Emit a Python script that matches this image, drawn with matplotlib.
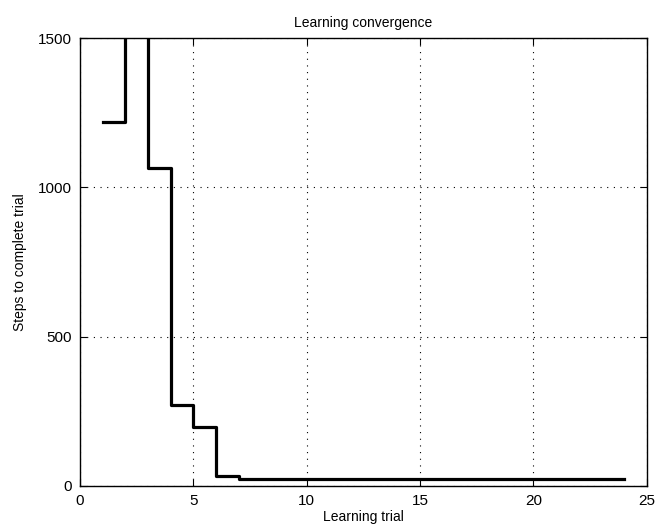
import matplotlib
matplotlib.use("Agg")
import matplotlib.pyplot as plt

plt.rcParams['font.family'] = ['Liberation Sans', 'DejaVu Sans']

trials = list(range(1, 25))
steps = [1220, 1700, 1065, 270, 198, 35] + [25] * 18

fig = plt.figure(figsize=(6.57, 5.29), dpi=100)
ax = fig.add_axes([0.1218, 0.0813, 0.8627, 0.8467])
ax.step(trials, steps, where='post', color='black', linewidth=2.3)
ax.set_xlim(0, 25)
ax.set_ylim(0, 1500)
ax.set_xticks([0, 5, 10, 15, 20, 25])
ax.set_yticks([0, 500, 1000, 1500])
ax.grid(True, color='black', linestyle=(0, (1, 5)), linewidth=0.8)
ax.tick_params(direction='in', top=True, right=True, labelsize=11, length=5, pad=6)
for s in ax.spines.values():
    s.set_linewidth(1.0)
ax.set_title('Learning convergence', fontsize=10, pad=8)
ax.set_xlabel('Learning trial', fontsize=10, labelpad=1)
ax.set_ylabel('Steps to complete trial', fontsize=10, labelpad=8)
fig.savefig('out.png', dpi=100)
